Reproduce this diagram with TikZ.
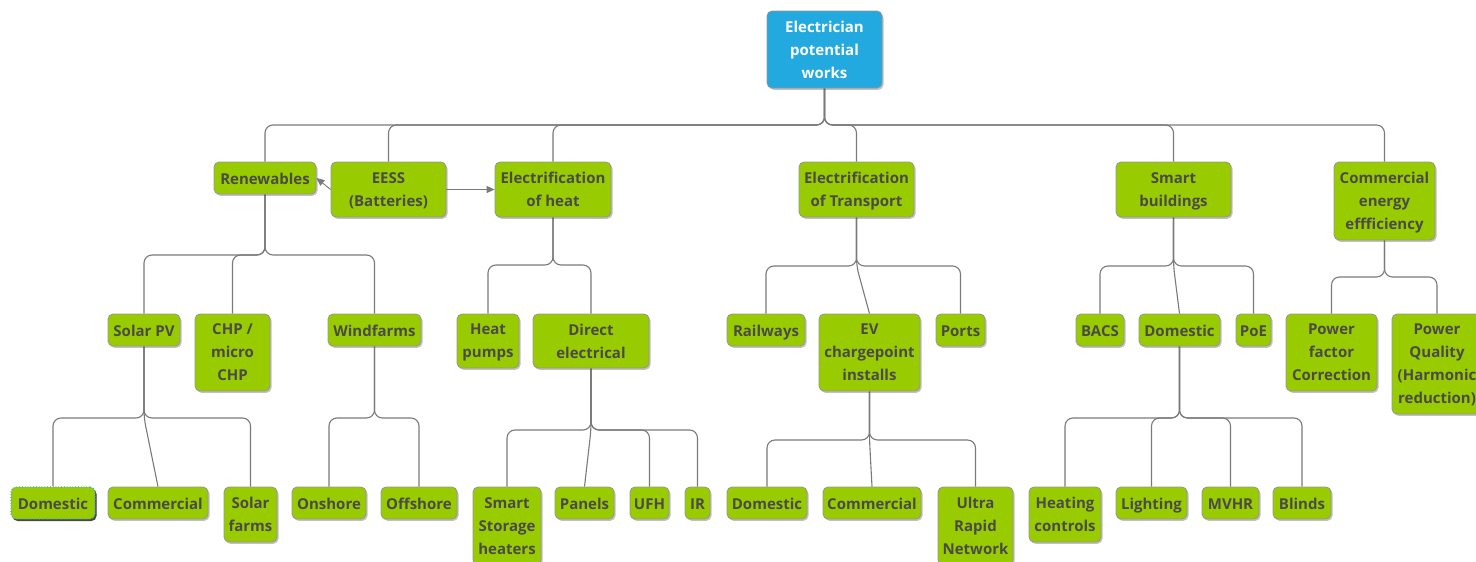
\documentclass[tikz,border=0pt]{standalone}
\usepackage{fontspec}
\setmainfont{Open Sans}
\usetikzlibrary{shadows,arrows.meta,backgrounds}
\definecolor{boxgreen}{HTML}{99CC00}
\definecolor{rootblue}{HTML}{22A9E0}
\definecolor{txtgrey}{HTML}{4A4A4A}
\definecolor{linegrey}{HTML}{7A7A7A}
\definecolor{selblue}{HTML}{2FA8DC}
\newcommand\bx[7][]{%
  \pgfmathsetmacro\bw{#5-#3}\pgfmathsetmacro\bh{#6-#4}%
  \node[box,#1,minimum width=\bw pt,minimum height=\bh pt] (#2) at ({(#3+#5)/2},{(#4+#6)/2}) {#7};}
\newcommand\trconn[3]{\draw[conn] (#1.south) |- (#2.north |- 0,#3) -- (#2.north);}
\newcommand\slconn[3]{\draw[conn] (#1.south) -- (#1.south |- 0,#3) -- (#2.north);}
\begin{document}
\begin{tikzpicture}[x=1pt,y=-1pt,
  box/.style={draw=linegrey!80, line width=0.8pt, fill=boxgreen, rounded corners=5pt,
    inner sep=0pt, align=center, text=txtgrey,
    font=\fontsize{15}{23}\selectfont\bfseries,
    text height=13.4pt, text depth=0pt,
    drop shadow={shadow xshift=1.5pt, shadow yshift=-1.8pt, opacity=0.35, fill=black!70}},
  multi/.style={text height={}, text depth=-1pt},
  rootbox/.style={fill=rootblue, text=white},
  selbox/.style={draw=selblue, dotted, line width=1.2pt,
    drop shadow={shadow xshift=1.5pt, shadow yshift=-2pt, opacity=0.85, fill=black!80}},
  conn/.style={draw=linegrey, line width=1.1pt, rounded corners=8pt},
  arr/.style={draw=linegrey, line width=0.9pt, -{Triangle[length=8pt,width=7pt]}}]
\useasboundingbox (0,0) rectangle (1476,562);
\clip (0,0) rectangle (1476,562);
% level 0
\bx[rootbox,multi]{root}{767}{11}{882}{88}{Electrician\\potential\\works}
% level 1
\bx{ren}{214}{162}{316}{194}{Renewables}
\bx[multi]{eess}{331}{162}{446}{217}{EESS\\(Batteries)}
\bx[multi]{heat}{495}{162}{611}{217}{Electrification\\of heat}
\bx[multi]{trans}{799}{162}{914}{217}{Electrification\\of Transport}
\bx[multi]{smart}{1116}{162}{1231}{217}{Smart\\buildings}
\bx[multi]{comm}{1334}{162}{1435}{240}{Commercial\\energy\\effficiency}
% level 2
\bx{solarpv}{108}{314}{180}{346}{Solar PV}
\bx[multi]{chp}{195}{314}{270}{391}{CHP /\\micro\\CHP}
\bx{wind}{328}{314}{421}{346}{Windfarms}
\bx[multi]{hp}{457}{314}{519}{368}{Heat\\pumps}
\bx[multi]{direct}{533}{314}{649}{368}{Direct\\electrical}
\bx{rail}{727}{314}{805}{346}{Railways}
\bx[multi]{ev}{819}{314}{920}{391}{EV\\chargepoint\\installs}
\bx{ports}{936}{314}{985}{346}{Ports}
\bx{bacs}{1076}{314}{1124}{346}{BACS}
\bx{sdom}{1139}{314}{1220}{346}{Domestic}
\bx{poe}{1236}{314}{1271}{346}{PoE}
\bx[multi]{pfc}{1286}{314}{1377}{391}{Power\\factor\\Correction}
\bx[multi]{pq}{1392}{314}{1482}{414}{Power\\Quality\\(Harmonic\\reduction)}
% level 3
\bx[selbox]{dom1}{11}{487}{95}{519}{Domestic}
\bx{comm1}{108}{487}{208}{519}{Commercial}
\bx[multi]{sfarms}{224}{487}{277}{542}{Solar\\farms}
\bx{onshore}{292}{487}{366}{519}{Onshore}
\bx{offshore}{381}{487}{457}{519}{Offshore}
\bx[multi]{ssh}{473}{487}{541}{565}{Smart\\Storage\\heaters}
\bx{panels}{555}{487}{614}{519}{Panels}
\bx{ufh}{630}{487}{669}{519}{UFH}
\bx{ir}{685}{487}{710}{519}{IR}
\bx{dom2}{727}{487}{807}{519}{Domestic}
\bx{comm2}{823}{487}{921}{519}{Commercial}
\bx[multi]{urn}{938}{487}{1013}{565}{Ultra\\Rapid\\Network}
\bx[multi]{hc}{1029}{487}{1101}{542}{Heating\\controls}
\bx{light}{1116}{487}{1187}{519}{Lighting}
\bx{mvhr}{1202}{487}{1259}{519}{MVHR}
\bx{blinds}{1273}{487}{1331}{519}{Blinds}
% connectors
\begin{scope}[on background layer]
\foreach \c in {ren,eess,heat,trans,smart,comm}{\trconn{root}{\c}{125}}
\foreach \c in {solarpv,chp,wind}{\trconn{ren}{\c}{255}}
\foreach \c in {hp,direct}{\trconn{heat}{\c}{265}}
\foreach \c in {rail,ports}{\trconn{trans}{\c}{266}}
\slconn{trans}{ev}{266}
\foreach \c in {bacs,poe}{\trconn{smart}{\c}{266}}
\slconn{smart}{sdom}{266}
\foreach \c in {pfc,pq}{\trconn{comm}{\c}{277}}
\foreach \c in {dom1,sfarms}{\trconn{solarpv}{\c}{418}}
\slconn{solarpv}{comm1}{418}
\foreach \c in {onshore,offshore}{\trconn{wind}{\c}{418}}
\foreach \c in {ssh,ufh,ir}{\trconn{direct}{\c}{430}}
\slconn{direct}{panels}{430}
\foreach \c in {dom2,urn}{\trconn{ev}{\c}{440}}
\slconn{ev}{comm2}{440}
\foreach \c in {hc,light,mvhr,blinds}{\trconn{sdom}{\c}{418}}
\end{scope}
\draw[arr] (eess.west) -- (ren.east);
\draw[arr] (eess.east) -- (heat.west);
\end{tikzpicture}
\end{document}
